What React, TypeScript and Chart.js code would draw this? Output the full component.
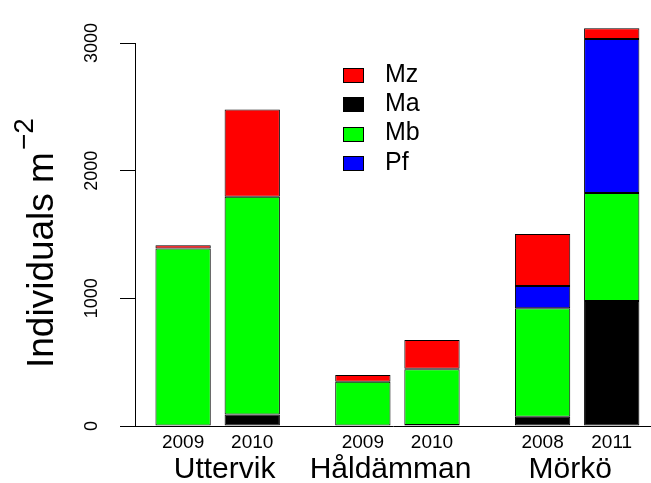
import React, { useEffect, useRef } from 'react';
import { Chart, registerables } from 'chart.js';

Chart.register(...registerables);

// ---- data ----
const siteNames = ['Uttervik', 'Håldämman', 'Mörkö'];
const yearLabels = ['2009', '2010', '2009', '2010', '2008', '2011'];
const barSpace = [1, 0.25, 1, 0.25, 1, 0.25]; // R barplot "space" argument
const groupLabelAt = [2.25, 5.25, 8.5];
const maValues = [0, 90, 0, 8, 73, 979];
const mbValues = [1390, 1706, 347, 436, 849, 846];
const pfValues = [0, 0, 0, 5, 175, 1206];
const mzValues = [25, 684, 52, 224, 407, 84];
const seriesNames = ['Ma', 'Mb', 'Pf', 'Mz'];
const seriesColors = ['#000000', '#00FF00', '#0000FF', '#FF0000'];
const legendOrder = ['Mz', 'Ma', 'Mb', 'Pf'];
const yTickValues = [0, 1000, 2000, 3000];
const yTitle = 'Individuals m';
const yTitleSup = '\u22122';

const FONT = "'Liberation Sans', Arial, Helvetica, sans-serif";

const barCenters: number[] = [];
{
  let edge = 0;
  barSpace.forEach((s) => {
    edge += s;
    barCenters.push(edge + 0.5);
    edge += 1;
  });
}

const seriesValues = [maValues, mbValues, pfValues, mzValues];

const decorPlugin = {
  id: 'rDecor',
  afterDraw(chart: any) {
    const ctx = chart.ctx as CanvasRenderingContext2D;
    ctx.save();
    // legend
    ctx.font = `25px ${FONT}`;
    ctx.textBaseline = 'middle';
    ctx.textAlign = 'left';
    legendOrder.forEach((name, i) => {
      const idx = seriesNames.indexOf(name);
      const cy = 75 + i * 29.3;
      ctx.fillStyle = seriesColors[idx];
      ctx.fillRect(343, Math.round(cy - 7), 20, 14);
      ctx.strokeStyle = '#000';
      ctx.lineWidth = 1;
      ctx.strokeRect(343.5, Math.round(cy - 7) + 0.5, 20, 14);
      ctx.fillStyle = '#000';
      ctx.fillText(name, 385, cy);
    });
    // y-axis title with superscript
    ctx.translate(53, 368);
    ctx.rotate(-Math.PI / 2);
    ctx.fillStyle = '#000';
    ctx.textBaseline = 'alphabetic';
    ctx.font = `37px ${FONT}`;
    ctx.fillText(yTitle, 0, 0);
    const w = ctx.measureText(yTitle).width;
    ctx.font = `28px ${FONT}`;
    ctx.fillText(yTitleSup, w + 2, -20);
    ctx.restore();
  },
};

export default function App() {
  const ref = useRef<HTMLCanvasElement | null>(null);

  useEffect(() => {
    if (!ref.current) return;
    const chart = new Chart(ref.current, {
      type: 'bar',
      data: {
        datasets: seriesNames.map((name, si) => ({
          label: name,
          data: barCenters.map((x, i) => ({ x, y: seriesValues[si][i] })),
          backgroundColor: seriesColors[si],
          borderColor: '#000000',
          borderWidth: 1,
          borderSkipped: false,
          barPercentage: 1,
          categoryPercentage: 0.8,
          clip: false,
        })),
      },
      options: {
        responsive: false,
        animation: false,
        layout: { padding: { top: 43, right: 0, left: 0, bottom: 0 } },
        plugins: {
          legend: { display: false },
          tooltip: { enabled: false },
          title: { display: false },
        },
        scales: {
          x: {
            type: 'linear',
            stacked: true,
            offset: false,
            min: 0.63,
            max: 9.96,
            weight: 1,
            position: 'bottom',
            grid: { display: false, drawTicks: false },
            border: { display: true, color: '#000', width: 1 },
            afterBuildTicks: (scale: any) => {
              scale.ticks = barCenters.map((v) => ({ value: v }));
            },
            afterFit: (scale: any) => {
              scale.height = 26;
            },
            ticks: {
              autoSkip: false,
              maxRotation: 0,
              minRotation: 0,
              padding: 5,
              color: '#000',
              font: { family: FONT, size: 19 },
              callback: (v: any) => {
                const i = barCenters.indexOf(Number(v));
                return i >= 0 ? yearLabels[i] : '';
              },
            },
          },
          x2: {
            type: 'linear',
            offset: false,
            min: 0.63,
            max: 9.96,
            weight: 2,
            position: 'bottom',
            grid: { display: false, drawTicks: false },
            border: { display: false },
            afterBuildTicks: (scale: any) => {
              scale.ticks = groupLabelAt.map((v) => ({ value: v }));
            },
            afterFit: (scale: any) => {
              scale.height = 31;
            },
            ticks: {
              autoSkip: false,
              maxRotation: 0,
              minRotation: 0,
              padding: 0,
              color: '#000',
              font: { family: FONT, size: 30 },
              callback: (v: any) => {
                const i = groupLabelAt.indexOf(Number(v));
                return i >= 0 ? siteNames[i] : '';
              },
            },
          },
          y: {
            type: 'linear',
            stacked: true,
            min: 0,
            max: 3000,
            position: 'left',
            afterBuildTicks: (scale: any) => {
              scale.ticks = yTickValues.map((v) => ({ value: v }));
            },
            afterFit: (scale: any) => {
              scale.width = 135;
            },
            grid: {
              display: true,
              drawOnChartArea: false,
              drawTicks: true,
              tickLength: 15,
              tickColor: '#000',
              tickWidth: 1,
              color: '#000',
            },
            border: { display: true, color: '#000', width: 1 },
            ticks: {
              minRotation: 90,
              maxRotation: 90,
              crossAlign: 'center',
              padding: 8,
              color: '#000',
              font: { family: FONT, size: 18 },
              callback: (v: any) => String(v),
            },
          },
        },
      },
      plugins: [decorPlugin],
    } as any);
    return () => chart.destroy();
  }, []);

  return (
    <canvas
      ref={ref}
      width={651}
      height={483}
      style={{ position: 'absolute', left: 0, top: 0, width: 651, height: 483, background: '#fff' }}
    />
  );
}
